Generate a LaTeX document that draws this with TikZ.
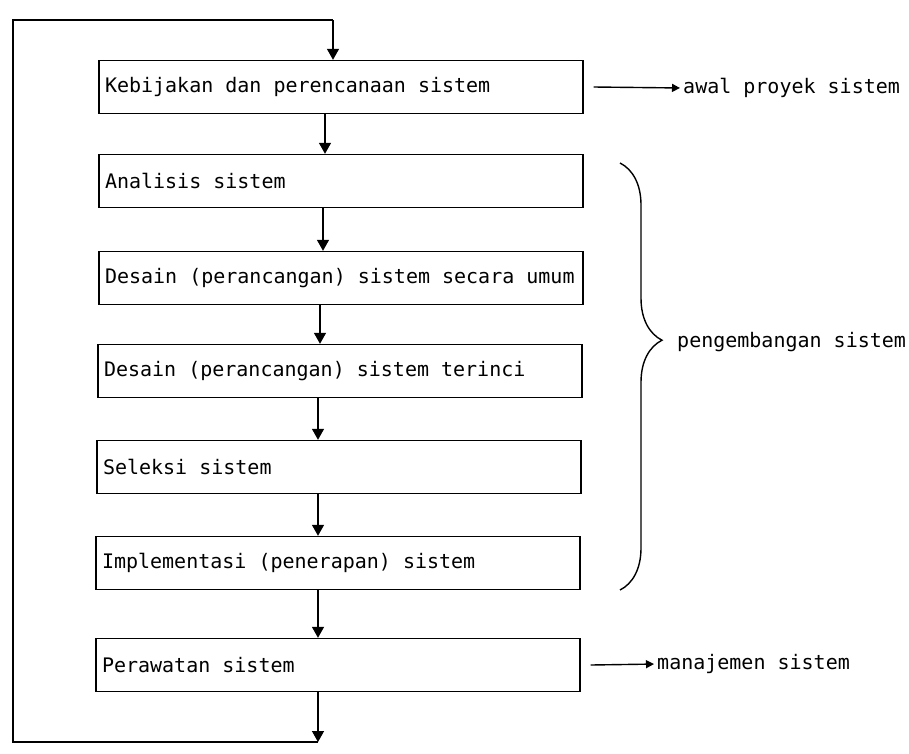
\documentclass[tikz,border=0pt]{standalone}
\usepackage{fontspec}
\setmonofont{DejaVu Sans Mono}[WordSpace={1,0,0}]
\usetikzlibrary{arrows.meta,decorations.pathreplacing}
\newcommand\steptext[1]{\makebox[472pt][l]{#1}}
\begin{document}
\begin{tikzpicture}[x=1pt,y=-1pt,
  every node/.style={font=\fontsize{20}{22}\selectfont\ttfamily},
  stepbox/.style={draw,line width=1.4pt,rectangle,inner xsep=6pt,inner ysep=0pt,minimum height=53pt},
  ln/.style={line width=1.4pt},
  arr/.style={line width=1.4pt,-{Triangle[width=12pt,length=11pt]}},
  sarr/.style={line width=1.4pt,shorten >=3pt,-{Triangle[width=8pt,length=8pt]}},
  lab/.style={anchor=west,inner sep=0pt}]
\useasboundingbox (0,0) rectangle (909,753);
\node[stepbox] (k) at (341,87) {\steptext{Kebijakan dan perencanaan sistem}};
\node[stepbox] (a) at (341,181) {\steptext{Analisis sistem}};
\node[stepbox] (du) at (341,278) {\steptext{Desain (perancangan) sistem secara umum}};
\node[stepbox] (dt) at (340,371) {\steptext{Desain (perancangan) sistem terinci}};
\node[stepbox] (s) at (339,467) {\steptext{Seleksi sistem}};
\node[stepbox] (i) at (338,563) {\steptext{Implementasi (penerapan) sistem}};
\node[stepbox] (p) at (338,665) {\steptext{Perawatan sistem}};
% feedback loop
\coordinate (tr) at (333,20);
\coordinate (tl) at (13,20);
\coordinate (bl) at (13,742);
\coordinate (br) at (318,742);
\draw[ln] (br) -- (bl) -- (tl) -- (tr);
\draw[arr] (tr) -- (k.north -| tr);
\draw[arr] (k.south -| 325,0) -- (a.north -| 325,0);
\draw[arr] (a.south -| 323,0) -- (du.north -| 323,0);
\draw[arr] (du.south -| 320,0) -- (dt.north -| 320,0);
\draw[arr] (dt.south -| 318,0) -- (s.north -| 318,0);
\draw[arr] (s.south -| 318,0) -- (i.north -| 318,0);
\draw[arr] (i.south -| 318,0) -- (p.north -| 318,0);
\draw[arr] (p.south -| br) -- (br);
% right side labels
\node[lab] (aw) at (683,88) {awal proyek sistem};
\draw[sarr] (k.east) ++(10,0) coordinate (kx) -- (aw.west);
\node[lab] (mj) at (657,664) {manajemen sistem};
\draw[sarr] (p.east) ++(10,0) coordinate (px) -- (mj.west);
\coordinate (bt) at (620,163);
\coordinate (bb) at (620,590);
\draw[ln,decorate,decoration={brace,amplitude=42pt,aspect=0.415}] (bt) -- (bb);
\node[lab] (pg) at (677,342) {pengembangan sistem};
\end{tikzpicture}
\end{document}
